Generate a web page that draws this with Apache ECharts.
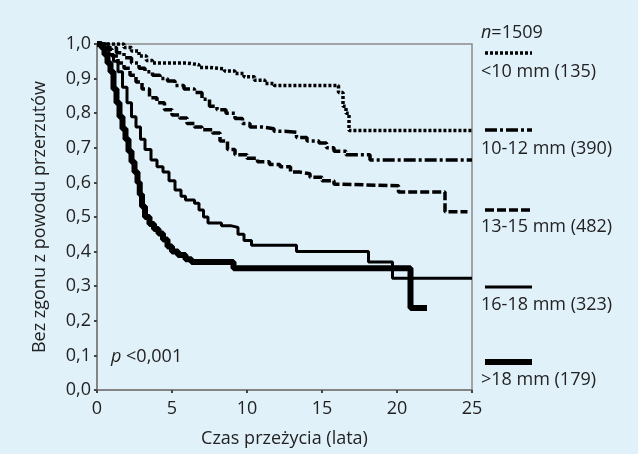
<!DOCTYPE html>
<html>
<head>
<meta charset="utf-8">
<script src="https://cdn.jsdelivr.net/npm/echarts@6/dist/echarts.min.js"></script>
<style>
html,body{margin:0;padding:0;background:#e1f1fa;}
#chart{width:638px;height:454px;}
</style>
</head>
<body>
<div id="chart"></div>
<script>
// ---- Data ----
var xTicks = [0, 5, 10, 15, 20, 25];
var yTicks = [0, 0.1, 0.2, 0.3, 0.4, 0.5, 0.6, 0.7, 0.8, 0.9, 1.0];
var groupNames = ['<10 mm (135)', '10-12 mm (390)', '13-15 mm (482)', '16-18 mm (323)', '>18 mm (179)'];
var totalN = '1509';
var pText = '<0,001';

var lt10 = [[0,1],[1.8,0.99],[2.3,0.98],[2.8,0.965],[3.3,0.952],[3.7,0.945],[6,0.94],[6.8,0.932],[7.5,0.928],
  [8.5,0.922],[9.2,0.915],[9.8,0.905],[10.5,0.895],[11.2,0.886],[11.8,0.88],[16.1,0.86],[16.4,0.82],[16.6,0.80],
  [16.8,0.75],[25,0.75]];
var mm10_12 = [[0,1],[0.8,0.99],[1.3,0.975],[1.8,0.96],[2.3,0.945],[2.8,0.93],[3.2,0.92],[3.7,0.91],[4.2,0.9],
  [4.7,0.893],[5.2,0.88],[5.8,0.87],[6.5,0.86],[7,0.84],[7.5,0.82],[8,0.81],[8.6,0.8],[9.2,0.785],[9.7,0.77],
  [10.2,0.76],[11,0.755],[11.8,0.748],[12.5,0.745],[13.3,0.73],[14,0.72],[14.8,0.714],[15.3,0.70],[15.8,0.69],
  [16.6,0.68],[18.2,0.665],[25,0.665]];
var mm13_15 = [[0,1],[0.6,0.985],[1,0.965],[1.4,0.945],[1.8,0.93],[2.2,0.91],[2.6,0.89],[3,0.87],[3.5,0.845],
  [4,0.83],[4.5,0.81],[5,0.795],[5.5,0.786],[6,0.77],[6.5,0.76],[7,0.752],[7.7,0.743],[8.2,0.72],[8.7,0.695],
  [9.2,0.68],[10,0.67],[10.7,0.66],[11.5,0.652],[12.2,0.645],[12.9,0.63],[13.5,0.625],[14.2,0.615],[15,0.605],
  [15.8,0.595],[16.2,0.59],[20.1,0.572],[23.2,0.515],[24.7,0.515]];
var mm16_18 = [[0,1],[0.5,0.99],[0.8,0.97],[1.1,0.95],[1.4,0.92],[1.7,0.875],[2.0,0.83],[2.3,0.79],[2.6,0.76],
  [2.9,0.725],[3.2,0.695],[3.6,0.665],[4.0,0.645],[4.4,0.63],[4.8,0.605],[5.2,0.578],[5.6,0.56],[5.9,0.549],
  [6.5,0.54],[6.8,0.52],[7.1,0.5],[7.4,0.483],[8.3,0.475],[8.9,0.47],[9.4,0.45],[9.8,0.432],[10.3,0.418],
  [13.3,0.40],[18.1,0.37],[19.7,0.323],[25,0.323]];
var gt18 = [[0,1],[0.3,0.99],[0.5,0.97],[0.7,0.945],[0.9,0.92],[1.1,0.87],[1.3,0.83],[1.5,0.79],[1.7,0.755],
  [1.9,0.725],[2.1,0.69],[2.3,0.66],[2.5,0.63],[2.7,0.6],[2.85,0.565],[3.0,0.53],[3.2,0.5],[3.5,0.48],[3.8,0.465],
  [4.1,0.452],[4.4,0.435],[4.7,0.415],[5.0,0.4],[5.4,0.39],[5.9,0.378],[6.3,0.37],[9.1,0.352],[20.9,0.237],[22,0.237]];

// ---- Styles ----
var seriesData = [lt10, mm10_12, mm13_15, mm16_18, gt18];
var dashes = [[3,2],[12,3,3,3],[9,3],null,null];
var widths = [3.5,3.5,3.5,3,6];
var legendY = [53, 130, 210, 287, 362];
var textY = [72, 149, 227, 305, 380];
var FONT = '"Open Sans", "Noto Sans", sans-serif';
var FS = 18;
var TXT = '#222';

var chart = echarts.init(document.getElementById('chart'), null, {renderer:'canvas'});

var series = seriesData.map(function(d, i){
  return {
    type:'line', data:d, step:'end', showSymbol:false, animation:false,
    lineStyle:{color:'#000', width:widths[i], type: dashes[i] || 'solid', cap:'butt'},
    z: 3 + i
  };
});

var graphics = [];
graphics.push({type:'text', z:10,
  style:{text:'{i|n}=' + totalN, x:481, y:33, font:FS + 'px ' + FONT, fill:TXT, textVerticalAlign:'middle',
    rich:{i:{fontStyle:'italic', fontSize:FS, fontFamily:FONT, fill:TXT}}}});
for (var i=0;i<5;i++){
  graphics.push({type:'line', z:10,
    shape:{x1:485, y1:legendY[i], x2:532, y2:legendY[i]},
    style:{stroke:'#000', lineWidth:widths[i], lineDash: dashes[i] || null, lineCap:'butt'}});
  graphics.push({type:'text', z:10,
    style:{text:groupNames[i], x:481, y:textY[i], font:FS + 'px ' + FONT, fill:TXT, textVerticalAlign:'middle'}});
}
graphics.push({type:'text', z:10,
  style:{text:'{i|p} ' + pText, x:111, y:357, font:FS + 'px ' + FONT, fill:TXT, textVerticalAlign:'middle',
    rich:{i:{fontStyle:'italic', fontSize:FS, fontFamily:FONT, fill:TXT}}}});

chart.setOption({
  backgroundColor:'#e1f1fa',
  animation:false,
  grid:{left:97, right:166, top:44, bottom:64, show:true, borderColor:'#8a8a8a', borderWidth:1.5, backgroundColor:'transparent'},
  xAxis:{type:'value', min:xTicks[0], max:xTicks[xTicks.length-1], interval:5,
    name:'Czas przeżycia (lata)', nameLocation:'middle', nameGap:40,
    nameTextStyle:{fontSize:FS, fontFamily:FONT, color:TXT},
    axisLine:{show:true, lineStyle:{color:'#7a7a7a', width:1.5}},
    axisTick:{show:true, length:3, lineStyle:{color:'#444', width:2}},
    axisLabel:{fontSize:FS, fontFamily:FONT, color:TXT, margin:10},
    splitLine:{show:false}},
  yAxis:{type:'value', min:yTicks[0], max:yTicks[yTicks.length-1], interval:0.1,
    name:'Bez zgonu z powodu przerzutów', nameLocation:'middle', nameGap:48,
    nameTextStyle:{fontSize:FS, fontFamily:FONT, color:TXT},
    axisLine:{show:true, lineStyle:{color:'#7a7a7a', width:1.5}},
    axisTick:{show:true, length:3, lineStyle:{color:'#444', width:2}},
    axisLabel:{fontSize:FS, fontFamily:FONT, color:TXT, margin:6,
      formatter:function(v){return v.toFixed(1).replace('.', ',');}},
    splitLine:{show:false}},
  series: series,
  graphic: graphics
});
</script>
</body>
</html>
